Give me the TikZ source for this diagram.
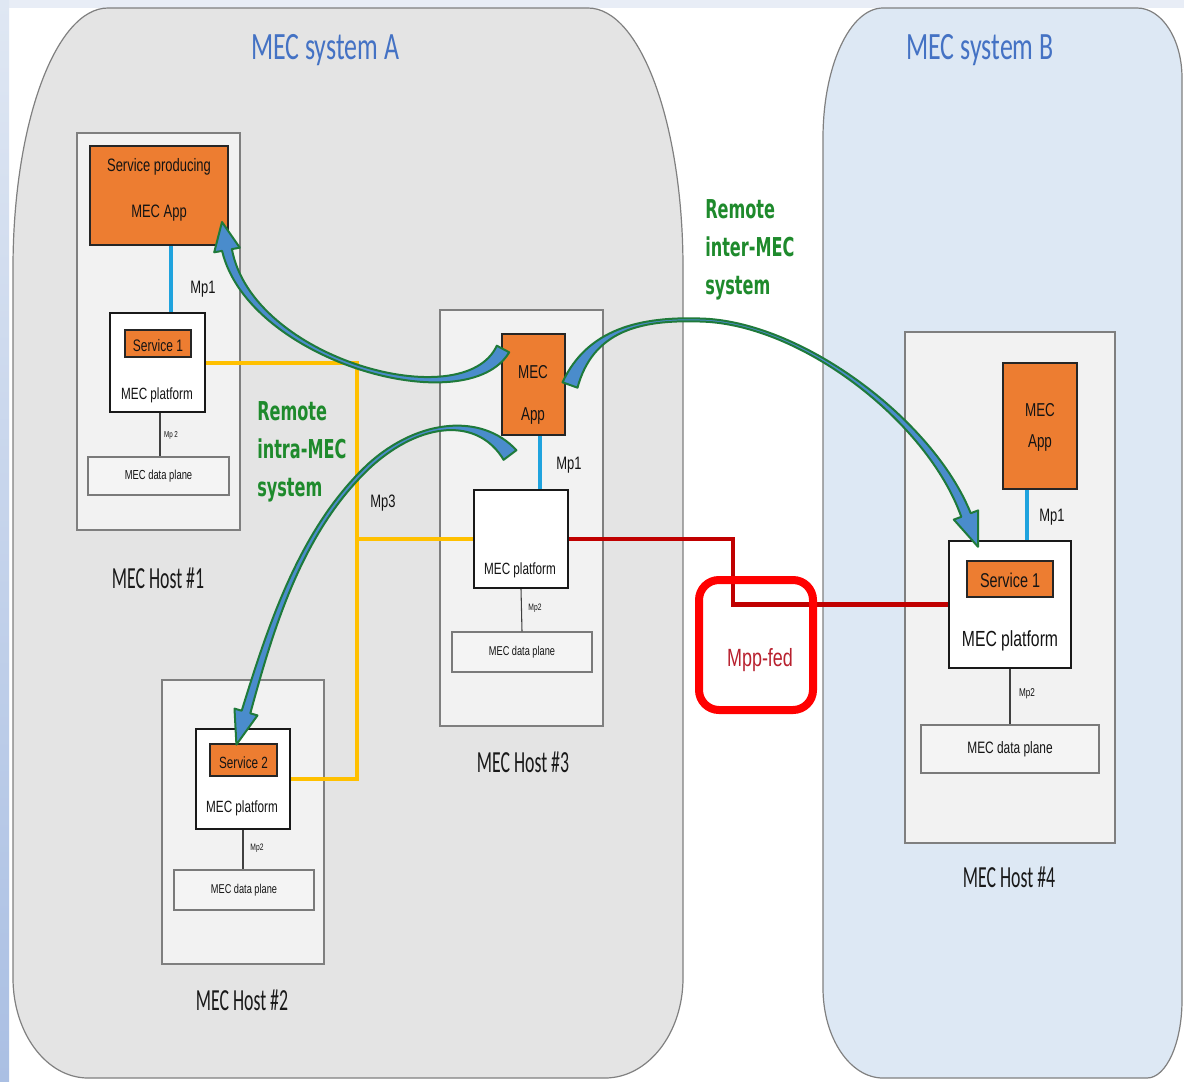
\documentclass[tikz,border=0pt]{standalone}
\usepackage{fontspec}
\newfontfamily\arn[FakeStretch=0.72]{Liberation Sans}
\newfontfamily\calT[FakeStretch=0.67]{Carlito}
\newfontfamily\calH[FakeStretch=0.58]{Carlito}
\newfontfamily\verB[FakeStretch=0.62]{DejaVu Sans}
\newcommand\myfa[1]{\arn\fontsize{#1}{#1}\selectfont}
\definecolor{sysAfill}{HTML}{E4E4E4}
\definecolor{sysBfill}{HTML}{DDE8F4}
\definecolor{sysline}{HTML}{808080}
\definecolor{hostfill}{HTML}{F2F2F2}
\definecolor{hostgray}{HTML}{7F7F7F}
\definecolor{dpfill}{HTML}{F4F4F4}
\definecolor{dpgray}{HTML}{7A7A7A}
\definecolor{mecorange}{HTML}{ED7D31}
\definecolor{mpblue}{HTML}{1FA3DE}
\definecolor{yelc}{HTML}{FFC000}
\definecolor{redc}{HTML}{C00000}
\definecolor{boxred}{HTML}{FF0000}
\definecolor{fedtext}{HTML}{B8202E}
\definecolor{titleblue}{HTML}{4472C4}
\definecolor{remgreen}{HTML}{1E8A2C}
\definecolor{arrblue}{HTML}{4A8CCC}
\definecolor{arrgreen}{HTML}{1F7A3A}
\def\u{0.75pt}
\tikzset{
  hostbox/.style={draw=hostgray, fill=hostfill, line width=1.4pt, inner sep=0pt},
  platbox/.style={draw=black!90, fill=white, line width=1.5pt, inner sep=0pt},
  appbox/.style={draw=black!85, fill=mecorange, line width=1.5pt, inner sep=0pt},
  dpbox/.style={draw=dpgray, fill=dpfill, line width=1pt, inner sep=0pt},
  lbl/.style={inner sep=0pt, text=black!92},
  hostlbl/.style={inner sep=0pt, text=black!90, font=\calH\fontsize{23}{23}\selectfont},
  mpline/.style={draw=mpblue, line width=2.8pt},
  mptwo/.style={draw=black!75, line width=0.8pt},
  yelline/.style={draw=yelc, line width=3pt},
  redline/.style={draw=redc, line width=3.6pt},
  bigarrow/.style={fill=arrblue, draw=arrgreen, line width=1.5pt, line join=round},
  remlbl/.style={inner sep=0pt, text=remgreen, align=left, font=\verB\bfseries\fontsize{19.5}{28.5}\selectfont},
}
\begin{document}
\begin{tikzpicture}[x=0.75pt,y=-0.75pt]
\useasboundingbox (0,0) rectangle (1184,1081);
% background
\fill[white] (0,0) rectangle (1184,1081);
\fill[color={rgb,255:red,232;green,237;blue,246}] (0,0) rectangle (1184,8);
\shade[top color={rgb,255:red,223;green,231;blue,243}, bottom color={rgb,255:red,170;green,191;blue,227}] (0,0) rectangle (9,1081);
% systems
\path[fill=sysAfill, draw=sysline, line width=0.9pt] (13,268) .. controls (13,124.4) and (55.5,8) .. (108,8) -- (588,8) .. controls (640.5,8) and (683,124.4) .. (683,268) -- (683,978) .. controls (683,1033.2) and (648.1,1078) .. (605,1078) -- (88,1078) .. controls (46.6,1078) and (13,1033.2) .. (13,978) -- cycle;
\path[fill=sysBfill, draw=sysline, line width=0.9pt] (823,138) .. controls (823,66.2) and (849.9,8) .. (883,8) -- (1137,8) .. controls (1161.9,8) and (1182,39.3) .. (1182,78) -- (1182,1000) .. controls (1182,1043.1) and (1166.3,1078) .. (1147,1078) -- (883,1078) .. controls (849.9,1078) and (823,1037.7) .. (823,988) -- cycle;
\node[inner sep=0pt, text=titleblue, font=\calT\fontsize{29}{29}\selectfont] (tA) at (325,50) {MEC system A};
\node[inner sep=0pt, text=titleblue, font=\calT\fontsize{29}{29}\selectfont] (tB) at (980,50) {MEC system B};
% host boxes
\node[hostbox, minimum width=163*\u, minimum height=397*\u] (H1) at (158.5,331.5) {};
\node[hostbox, minimum width=163*\u, minimum height=416*\u] (H3) at (521.5,518) {};
\node[hostbox, minimum width=162*\u, minimum height=284*\u] (H2) at (243,822) {};
\node[hostbox, minimum width=210*\u, minimum height=511*\u] (H4) at (1010,587.5) {};
\node[hostlbl] (H1l) at (158,578) {MEC Host \#1};
\node[hostlbl] (H3l) at (523,762) {MEC Host \#3};
\node[hostlbl] (H2l) at (242,1000) {MEC Host \#2};
\node[hostlbl] (H4l) at (1009,877) {MEC Host \#4};
% inner boxes (positions)
\node[appbox, minimum width=138*\u, minimum height=99*\u] (SP) at (159,195.5) {};
\node[platbox, minimum width=95*\u, minimum height=99*\u] (P1) at (157.5,362.5) {};
\node[dpbox, minimum width=141*\u, minimum height=38*\u] (DP1) at (158.5,476) {};
\node[appbox, minimum width=63*\u, minimum height=101*\u] (A3) at (533.5,384.5) {};
\node[platbox, minimum width=94*\u, minimum height=98*\u] (P3) at (521,539) {};
\node[dpbox, minimum width=140*\u, minimum height=40*\u] (DP3) at (522,652) {};
\node[platbox, minimum width=94*\u, minimum height=100*\u] (P2) at (243,779) {};
\node[dpbox, minimum width=140*\u, minimum height=40*\u] (DP2) at (244,890) {};
\node[appbox, minimum width=74*\u, minimum height=126*\u] (A4) at (1040,426) {};
\node[platbox, minimum width=122*\u, minimum height=127*\u] (P4) at (1010,604.5) {};
\node[dpbox, minimum width=178*\u, minimum height=48*\u] (DP4) at (1010,749) {};
% interface lines
\coordinate (ybus) at (357,0);
\coordinate (rbend) at (733,0);
\draw[yelline] (P1.east) -- (P1.east -| ybus) -- (P2.east -| ybus) -- (P2.east);
\draw[yelline] (P3.west -| ybus) -- (P3.west);
\draw[redline] (P3.east) -- (P3.east -| rbend) -- (P4.west -| rbend) -- (P4.west);
\draw[mpline] ([xshift=12*\u]SP.south) -- ([xshift=12*\u]SP.south |- P1.north);
\draw[mpline] ([xshift=6.5*\u]A3.south) -- ([xshift=6.5*\u]A3.south |- P3.north);
\draw[mpline] ([xshift=-13*\u]A4.south) -- ([xshift=-13*\u]A4.south |- P4.north);
\draw[mptwo] ([xshift=2.5*\u]P1.south) -- ([xshift=2.5*\u]P1.south |- DP1.north);
\draw[mptwo] (P3.south) -- (DP3.north);
\draw[mptwo] (P2.south) -- (P2.south |- DP2.north);
\draw[mptwo] (P4.south) -- (DP4.north);
% redraw boxes on top of lines
\node[platbox, minimum width=95*\u, minimum height=99*\u] at (157.5,362.5) {};
\node[platbox, minimum width=94*\u, minimum height=98*\u] at (521,539) {};
\node[platbox, minimum width=94*\u, minimum height=100*\u] at (243,779) {};
\node[platbox, minimum width=122*\u, minimum height=127*\u] at (1010,604.5) {};
\node[appbox, minimum width=66*\u, minimum height=27*\u] (S1) at (158,343.5) {};
\node[appbox, minimum width=67*\u, minimum height=32*\u] (S2) at (243.5,760) {};
\node[appbox, minimum width=86*\u, minimum height=36*\u] (S4) at (1010,579) {};
% texts
\node[lbl, font=\myfa{13.5}] (SPt1) at (159,167) {Service producing};
\node[lbl, font=\myfa{13.5}] (SPt2) at (159,213) {MEC App};
\node[lbl, font=\myfa{12.5}] (S1t) at (158,346) {Service 1};
\node[lbl, font=\myfa{12.2}] (P1t) at (157,395) {MEC platform};
\node[lbl, font=\myfa{9.8}] (DP1t) at (158.5,476) {MEC data plane};
\node[lbl, font=\myfa{13.5}] (Mp1a) at (203,289) {Mp1};
\node[lbl, font=\myfa{6.5}] (Mp2a) at (171,435) {Mp 2};
\node[lbl, font=\myfa{14}] (A3t1) at (533,372) {MEC};
\node[lbl, font=\myfa{14}] (A3t2) at (533,416) {App};
\node[lbl, font=\myfa{13.5}] (Mp1c) at (569,465) {Mp1};
\node[lbl, font=\myfa{12.2}] (P3t) at (520,570) {MEC platform};
\node[lbl, font=\myfa{7}] (Mp2c) at (535,608) {Mp2};
\node[lbl, font=\myfa{9.6}] (DP3t) at (522,652) {MEC data plane};
\node[lbl, font=\myfa{12.2}] (S2t) at (243.5,763) {Service 2};
\node[lbl, font=\myfa{12.2}] (P2t) at (242,808) {MEC platform};
\node[lbl, font=\myfa{7}] (Mp2b) at (257,848) {Mp2};
\node[lbl, font=\myfa{9.6}] (DP2t) at (244,890) {MEC data plane};
\node[lbl, font=\myfa{14}] (A4t1) at (1040,410) {MEC};
\node[lbl, font=\myfa{14}] (A4t2) at (1040,443) {App};
\node[lbl, font=\myfa{13.5}] (Mp1d) at (1052,517) {Mp1};
\node[lbl, font=\myfa{15}] (S4t) at (1010,580) {Service 1};
\node[lbl, font=\myfa{16.4}] (P4t) at (1010,641) {MEC platform};
\node[lbl, font=\myfa{8.5}] (Mp2d) at (1027,694) {Mp2};
\node[lbl, font=\myfa{12.4}] (DP4t) at (1010,749) {MEC data plane};
\node[lbl, font=\myfa{13.5}] (Mp3) at (383,503) {Mp3};
% federation box
\node[draw=boxred, line width=6pt, rounded corners=15pt, minimum width=114*\u, minimum height=130*\u, inner sep=0pt] (fed) at (756,645) {};
\node[inner sep=0pt, text=fedtext, font=\myfa{18.7}] (fedt) at (760,660) {Mpp-fed};
% remote labels
\node[remlbl, anchor=west] (intra) at (257,452) {Remote\\intra-MEC\\system};
\node[remlbl, anchor=west] (inter) at (705,250) {Remote\\inter-MEC\\system};
% curved arrows
\path[bigarrow] (496.8,345.7) .. controls (464,417) and (252,359) .. (231.9,249.1) -- (239.8,247.7) -- (222,222) -- (214.2,252.3) -- (222.1,250.9) .. controls (248,361) and (467,423) .. (509.2,352.3) -- cycle;
\path[bigarrow] (516.4,450.2) .. controls (482,413) and (418.6,418.5) .. (368.6,463.5) .. controls (298.6,528.5) and (267.1,629.2) .. (241.7,710.7) -- (234.5,708.6) -- (236.4,744.6) -- (257.5,715.4) -- (250.3,713.3) .. controls (272.9,630.8) and (301.4,531.5) .. (371.4,466.5) .. controls (421.4,421.5) and (478,417) .. (503.6,459.8) -- cycle;
\path[bigarrow] (577.5,387.7) .. controls (592.8,331) and (640,319.5) .. (700,321.5) .. controls (800,323.5) and (927.2,421.1) .. (961.3,516.8) -- (953.8,519.6) -- (978,546.8) -- (978.2,510.4) -- (970.7,513.2) .. controls (932.8,418.9) and (800,320.5) .. (700,318.5) .. controls (640,316.5) and (587.2,329) .. (562.5,382.3) -- cycle;
\end{tikzpicture}
\end{document}
